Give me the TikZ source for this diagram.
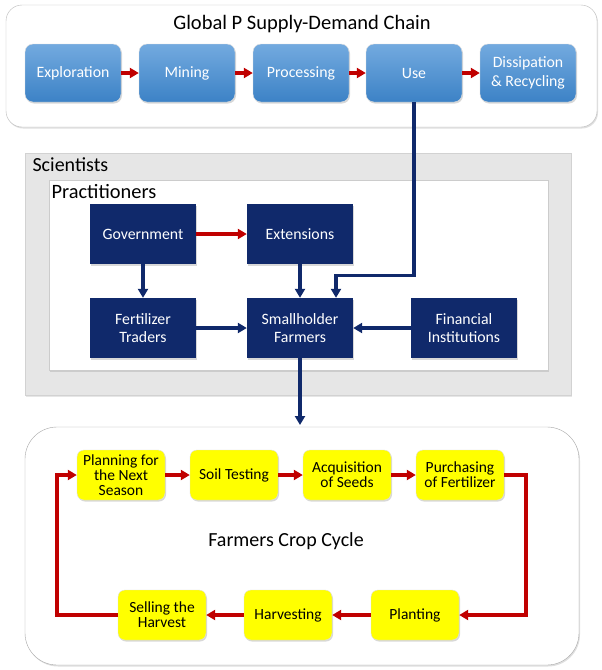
\documentclass[tikz,border=0pt]{standalone}
\usepackage{fontspec}
\setmainfont{Carlito}
\usetikzlibrary{arrows.meta,shadows}
\definecolor{navybox}{RGB}{16,41,107}
\definecolor{redline}{RGB}{192,0,0}
\definecolor{bluetop}{RGB}{115,170,223}
\definecolor{bluebot}{RGB}{60,130,198}
\definecolor{cropyellow}{RGB}{255,255,0}
\definecolor{sciencegray}{RGB}{230,230,230}
\tikzset{
  chainbox/.style={rounded corners=8pt, draw=white!75!gray, top color=bluetop, bottom color=bluebot,
    text=white, minimum width=96pt, minimum height=58pt, inner sep=1pt, align=center,
    font=\fontsize{15.8}{19}\selectfont, drop shadow={opacity=0.3,shadow xshift=1pt,shadow yshift=-1.5pt}},
  actorbox/.style={fill=navybox, text=white, minimum width=106pt, minimum height=60pt, inner sep=1pt,
    align=center, font=\fontsize{15.8}{18.5}\selectfont, drop shadow={opacity=0.3,shadow xshift=1pt,shadow yshift=-1.5pt}},
  cropbox/.style={rounded corners=7pt, fill=cropyellow, draw=gray!25, minimum width=88pt, minimum height=50pt,
    inner sep=1pt, align=center, font=\fontsize{15.5}{15}\selectfont,
    drop shadow={opacity=0.3,shadow xshift=1pt,shadow yshift=-1.5pt}},
  redarrow/.style={draw=redline, line width=3.2pt, -{Triangle[length=9pt,width=10pt]}},
  navyarrow/.style={draw=navybox, line width=3.2pt, -{Triangle[length=9pt,width=10pt]}},
}
\begin{document}
\begin{tikzpicture}[x=1pt, y=-1pt]
\useasboundingbox (0,0) rectangle (602,670);
% Supply-demand chain
\draw[draw=gray!55, fill=white, rounded corners=16pt, drop shadow={opacity=0.25,shadow xshift=1pt,shadow yshift=-1.5pt}]
  (6,5) rectangle (597,127);
\node[font=\fontsize{20.5}{24}\selectfont] (chaintitle) at (302,24) {Global P Supply-Demand Chain};
\node[chainbox] (explore) at (73,73) {Exploration};
\node[chainbox] (mine) at (187,73) {Mining};
\node[chainbox] (process) at (301,73) {Processing};
\node[chainbox] (use) at (414,73) {Use};
\node[chainbox] (dissip) at (528,73) {Dissipation\\\& Recycling};
\draw[redarrow] (explore) -- (mine);
\draw[redarrow] (mine) -- (process);
\draw[redarrow] (process) -- (use);
\draw[redarrow] (use) -- (dissip);
% Scientists and practitioners
\fill[sciencegray, draw=gray!35, drop shadow={opacity=0.2,shadow xshift=1pt,shadow yshift=-1.5pt}] (25,153) rectangle (571,395);
\node[anchor=west, font=\fontsize{20}{24}\selectfont] (scientists) at (29,165) {Scientists};
\draw[draw=gray!40, fill=white, drop shadow={opacity=0.25,shadow xshift=1pt,shadow yshift=-1.5pt}] (49,180) rectangle (548,370);
\node[anchor=west, font=\fontsize{20.4}{24}\selectfont] (practitioners) at (48,192) {Practitioners};
\node[actorbox] (gov) at (143,234) {Government};
\node[actorbox] (ext) at (300,234) {Extensions};
\node[actorbox] (trader) at (143,328) {Fertilizer\\Traders};
\node[actorbox] (small) at (300,328) {Smallholder\\Farmers};
\node[actorbox] (finance) at (464,328) {Financial\\Institutions};
\draw[redarrow] (gov) -- (ext);
\draw[navyarrow] (gov) -- (trader);
\draw[navyarrow] (ext) -- (small);
\draw[navyarrow] (trader) -- (small);
\draw[navyarrow] (finance) -- (small);
\draw[navyarrow] (use.south) -- ++(0,173) -| ([xshift=36pt]small.north);
% Crop cycle
\draw[draw=gray!70, fill=white, rounded corners=32pt, drop shadow={opacity=0.25,shadow xshift=1pt,shadow yshift=-1.5pt}]
  (25,427) rectangle (579,665);
\node[font=\fontsize{20}{24}\selectfont] (croptitle) at (286,541) {Farmers Crop Cycle};
\node[cropbox] (plan) at (121,475) {Planning for\\the Next\\Season};
\node[cropbox] (soil) at (234,475) {Soil Testing};
\node[cropbox] (seed) at (347,475) {Acquisition\\of Seeds};
\node[cropbox] (buy) at (460,475) {Purchasing\\of Fertilizer};
\node[cropbox] (sell) at (162,615) {Selling the\\Harvest};
\node[cropbox] (harvest) at (288,615) {Harvesting};
\node[cropbox] (plant) at (415,615) {Planting};
\coordinate (cycletop) at (300,425);
\coordinate (loopR) at (526,475);
\coordinate (loopL) at (57,545);
\draw[navyarrow] (small) -- (cycletop);
\draw[redarrow] (plan) -- (soil);
\draw[redarrow] (soil) -- (seed);
\draw[redarrow] (seed) -- (buy);
\draw[redarrow] (buy.east) -- (loopR) |- (plant.east);
\draw[redarrow] (plant) -- (harvest);
\draw[redarrow] (harvest) -- (sell);
\draw[redarrow] (sell.west) -| (loopL) |- (plan.west);
\end{tikzpicture}
\end{document}
